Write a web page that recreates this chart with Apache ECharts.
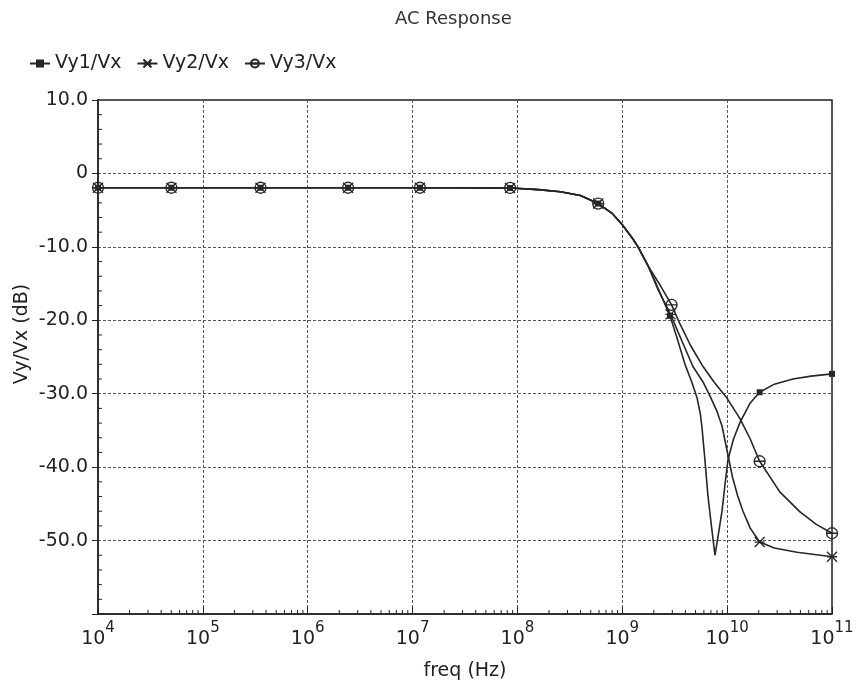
<!DOCTYPE html>
<html><head><meta charset="utf-8">
<script src="https://cdn.jsdelivr.net/npm/echarts@6/dist/echarts.min.js"></script>
<style>html,body{margin:0;padding:0;background:#fff}#c{width:861px;height:686px}</style>
</head><body><div id="c"></div>
<script>
// ---- data (frequency given as log10(Hz), magnitude in dB) ----
const seriesNames = ['Vy1/Vx', 'Vy2/Vx', 'Vy3/Vx'];

const vy1Exp = [4.0,4.70,5.55,6.385,7.07,7.93,8.2,8.41,8.6,8.77,8.9,9.0,9.1,9.15,9.25,9.34,9.455,9.52,9.598,9.66,9.712,9.745,9.76,9.785,9.817,9.85,9.884,9.92,9.951,9.98,10.008,10.06,10.123,10.218,10.31,10.45,10.628,10.8,11.0];
const vy1Db  = [-1.95,-1.95,-1.95,-1.95,-1.95,-1.98,-2.2,-2.5,-3.0,-4.1,-5.4,-7.0,-8.9,-10.0,-12.7,-15.6,-19.4,-22.3,-26.0,-28.3,-30.5,-32.8,-34.6,-38.5,-43.9,-48.0,-52.0,-48.8,-46.0,-42.3,-39.0,-36.2,-33.9,-31.3,-29.8,-28.7,-28.0,-27.6,-27.3];

const vy2Exp = [4.0,4.70,5.55,6.385,7.07,7.93,8.2,8.41,8.6,8.77,8.9,9.0,9.1,9.15,9.25,9.34,9.46,9.58,9.674,9.77,9.836,9.9,9.951,10.0,10.05,10.1,10.151,10.22,10.31,10.45,10.666,11.0];
const vy2Db  = [-1.95,-1.95,-1.95,-1.95,-1.95,-1.98,-2.2,-2.5,-3.0,-4.1,-5.4,-7.0,-8.9,-10.0,-12.7,-15.8,-19.2,-23.2,-26.3,-28.4,-30.3,-32.3,-34.4,-37.8,-41.3,-43.9,-46.0,-48.3,-50.2,-51.0,-51.6,-52.2];

const vy3Exp = [4.0,4.70,5.55,6.385,7.07,7.93,8.2,8.41,8.6,8.77,8.9,9.0,9.1,9.15,9.25,9.36,9.47,9.55,9.65,9.77,9.88,9.998,10.122,10.218,10.31,10.504,10.695,10.85,11.0];
const vy3Db  = [-1.95,-1.95,-1.95,-1.95,-1.95,-1.98,-2.2,-2.5,-3.0,-4.1,-5.4,-7.0,-8.9,-10.0,-12.7,-15.2,-17.9,-20.5,-23.4,-26.3,-28.5,-30.6,-33.4,-36.1,-39.2,-43.4,-46.1,-47.8,-49.0];

// frequencies (log10) where the simulator drew markers
const markerExp = [4.0,4.70,5.55,6.385,7.07,7.93,8.77,9.46,10.31,11.0];

// axis ticks
const xDecades = [4,5,6,7,8,9,10,11];
const yMin = -60, yMax = 10, yStep = 10;

// ---- build ----
const FONT = 'DejaVu Sans';
const INK = '#222';
function build(exps, dbs) {
  return exps.map((e, i) => {
    const v = [Math.pow(10, e), dbs[i]];
    const isMarker = markerExp.some(m => Math.abs(m - e) < 0.021);
    return isMarker ? { value: v } : { value: v, symbol: 'none' };
  });
}
const minorX = [];
for (let d = xDecades[0]; d < xDecades[xDecades.length - 1]; d++)
  for (let k = 2; k <= 9; k++) minorX.push([k * Math.pow(10, d), yMin]);
const minorY = [];
for (let v = yMin + 2; v < yMax; v += 2) if (v % 10 !== 0) minorY.push([Math.pow(10, xDecades[0]), v]);

const lineStyle = { color: '#262626', width: 1.6 };
const symSquare = 'rect';
const symStar = 'path://M0,0L10,10M10,0L0,10M0,5L10,5';
const symTheta = 'path://M0,5A5,5,0,1,1,10,5A5,5,0,1,1,0,5ZM0,5L10,5';

const chart = echarts.init(document.getElementById('c'), null, { renderer: 'canvas' });
chart.setOption({
  animation: false,
  backgroundColor: '#fff',
  title: {
    text: 'AC Response', left: 390, top: 5,
    textStyle: { fontFamily: FONT, fontSize: 18, fontWeight: 'normal', color: '#333' }
  },
  legend: {
    data: seriesNames, left: 24, top: 49, itemWidth: 20, itemHeight: 10, itemGap: 15,
    textStyle: { fontFamily: FONT, fontSize: 19, color: INK },
    inactiveColor: '#999'
  },
  grid: { left: 98, right: 29, top: 100, bottom: 70, show: true, borderColor: INK, borderWidth: 1.5, backgroundColor: 'transparent' },
  xAxis: {
    type: 'log', logBase: 10, min: Math.pow(10, xDecades[0]), max: Math.pow(10, xDecades[xDecades.length - 1]), splitNumber: 7,
    name: 'freq (Hz)', nameLocation: 'middle', nameGap: 48,
    nameTextStyle: { fontFamily: FONT, fontSize: 19, color: INK },
    axisLine: { onZero: false, lineStyle: { color: INK, width: 1.5 } },
    axisTick: { inside: true, length: 7, lineStyle: { color: INK } },
    splitLine: { show: true, lineStyle: { color: '#555', type: [3, 2], width: 1 } },
    axisLabel: {
      margin: 7,
      formatter: v => '{b|10}{s|' + Math.round(Math.log10(v)) + '}',
      rich: {
        b: { fontFamily: FONT, fontSize: 19, color: INK, lineHeight: 28, verticalAlign: 'bottom' },
        s: { fontFamily: FONT, fontSize: 15, color: INK, lineHeight: 18, verticalAlign: 'top' }
      }
    }
  },
  yAxis: {
    type: 'value', min: yMin, max: yMax, interval: yStep,
    axisLine: { show: true, onZero: false, lineStyle: { color: INK, width: 1.5 } },
    axisTick: { show: true, inside: false, length: 6, lineStyle: { color: INK } },
    splitLine: { show: true, lineStyle: { color: '#555', type: [3, 2], width: 1 } },
    axisLabel: {
      margin: 10, fontFamily: FONT, fontSize: 19, color: INK,
      formatter: v => v === yMin ? '' : (v === 0 ? '0' : v.toFixed(1))
    }
  },
  graphic: [{
    type: 'text', x: 22, y: 334, rotation: Math.PI / 2,
    style: { text: 'Vy/Vx (dB)', fontFamily: FONT, fontSize: 19, fill: INK, align: 'center', verticalAlign: 'middle' }
  }],
  series: [
    {
      name: seriesNames[0], type: 'line', data: build(vy1Exp, vy1Db),
      symbol: symSquare, symbolSize: 6, showAllSymbol: true, lineStyle, z: 3,
      itemStyle: { color: '#262626' }, emphasis: { disabled: true }
    },
    {
      name: seriesNames[1], type: 'line', data: build(vy2Exp, vy2Db),
      symbol: symStar, symbolSize: 10, symbolKeepAspect: true, showAllSymbol: true, lineStyle, z: 3,
      itemStyle: { color: '#262626', borderColor: '#262626', borderWidth: 1.3 }, emphasis: { disabled: true }
    },
    {
      name: seriesNames[2], type: 'line', data: build(vy3Exp, vy3Db),
      symbol: symTheta, symbolSize: 11, symbolKeepAspect: true, showAllSymbol: true, lineStyle, z: 3,
      itemStyle: { color: 'rgba(0,0,0,0)', borderColor: '#262626', borderWidth: 1.3 }, emphasis: { disabled: true }
    },
    {
      name: 'xMinor', type: 'custom', data: minorX, silent: true, z: 4,
      renderItem: (params, api) => {
        const p = api.coord([api.value(0), api.value(1)]);
        return { type: 'line', shape: { x1: p[0], y1: p[1], x2: p[0], y2: p[1] - 4 }, style: { stroke: INK, lineWidth: 1 } };
      }
    },
    {
      name: 'yMinor', type: 'custom', data: minorY, silent: true, z: 4,
      renderItem: (params, api) => {
        const p = api.coord([api.value(0), api.value(1)]);
        return { type: 'line', shape: { x1: p[0], y1: p[1], x2: p[0] + 4, y2: p[1] }, style: { stroke: INK, lineWidth: 1 } };
      }
    }
  ]
});
</script></body></html>
